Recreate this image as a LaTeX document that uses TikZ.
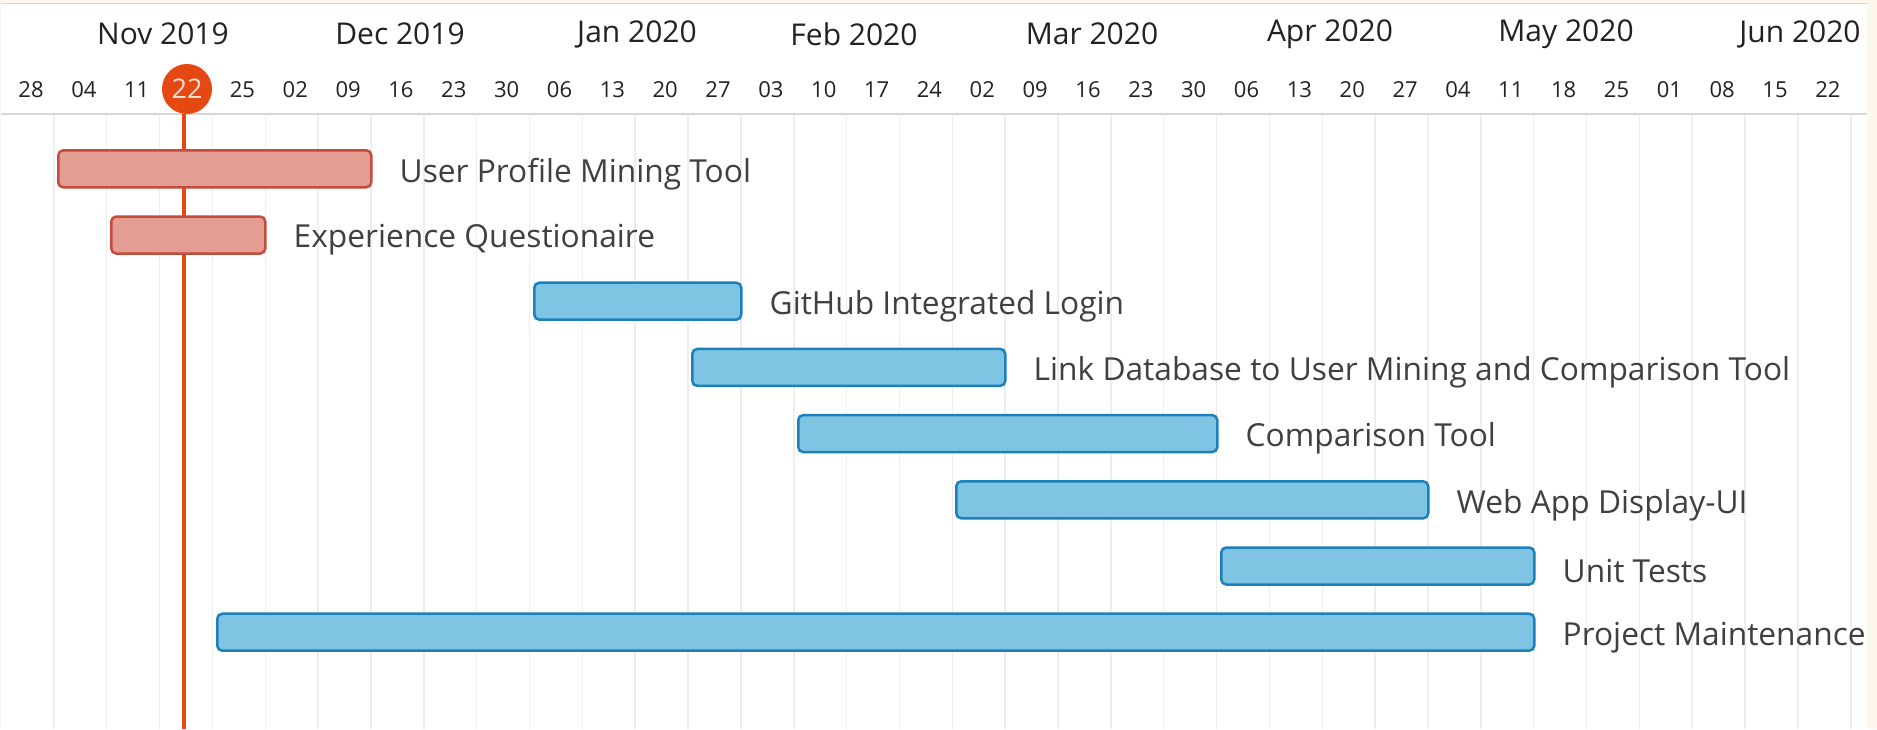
\documentclass[tikz,border=0pt]{standalone}
\usepackage{fontspec}
\setmainfont{Open Sans}
\usetikzlibrary{positioning}
\definecolor{pagebeige}{RGB}{252,246,236}
\definecolor{gridgray}{RGB}{238,238,238}
\definecolor{headgray}{RGB}{214,214,214}
\definecolor{todayred}{RGB}{230,72,20}
\definecolor{todaytext}{RGB}{252,222,210}
\definecolor{doneFill}{RGB}{227,157,146}
\definecolor{doneDraw}{RGB}{196,76,60}
\definecolor{taskFill}{RGB}{127,196,227}
\definecolor{taskDraw}{RGB}{28,128,186}
\definecolor{labelgray}{RGB}{64,64,64}
\definecolor{headtext}{RGB}{34,34,34}
\tikzset{
  donebar/.style={
    draw=doneDraw, fill=doneFill, line width=2.5pt,
    rounded corners=5pt, minimum height=37pt, inner sep=0pt, anchor=west
  },
  taskbar/.style={donebar, draw=taskDraw, fill=taskFill},
  tasklabel/.style={
    inner sep=0pt, anchor=west, text=labelgray, yshift=-5pt,
    font=\fontsize{31.7}{36}\selectfont
  },
  monthlabel/.style={inner sep=0pt, text=headtext, font=\fontsize{30}{34}\selectfont},
  weeklabel/.style={inner sep=0pt, text=headtext, font=\fontsize{22}{26}\selectfont},
  todaymark/.style={
    circle, fill=todayred, minimum size=50pt, inner sep=0pt,
    text=todaytext, font=\fontsize{27}{30}\selectfont
  },
  gridline/.style={gridgray, line width=1.5pt},
  todayline/.style={todayred, line width=4pt}
}

\begin{document}
\begin{tikzpicture}[x=1pt, y=-1pt]
        \useasboundingbox (0,0) rectangle (1877,729);
        \fill[pagebeige] (0,0) rectangle (1877,729);
        \fill[white] (1,3) rectangle (1867,729);
        \draw[headgray, line width=1pt] (1,3.5) -- (1867,3.5);
        % week columns
        \foreach \k in {1,...,35}
          \draw[gridline] (1+52.85*\k,114) -- (1+52.85*\k,729);
        \draw[headgray, line width=2.5pt] (1,114) -- (1867,114);
        % header
        \foreach \m/\x in {Nov 2019/163, Dec 2019/400, Jan 2020/637, Feb 2020/854,
                           Mar 2020/1092, Apr 2020/1330, May 2020/1566, Jun 2020/1800}
          \node[monthlabel] (m\x) at (\x,34) {\m};
        \foreach \d [count=\k from 0] in {28,04,11,{},25,02,09,16,23,30,06,13,20,27,03,10,17,24,
                                          02,09,16,23,30,06,13,20,27,04,11,18,25,01,08,15,22}
          \node[weeklabel] (w\k) at (31+52.85*\k,90) {\d};
        % today
        \node[todaymark] (today) at (187,89) {22};
        \coordinate (todayEnd) at (184,729);
        \draw[todayline] (today.south -| todayEnd) -- (todayEnd);
        % tasks
        \node[donebar, minimum width=313pt] (profile) at (57,168.8) {};
        \node[tasklabel, right=27pt of profile] (profileText) {User Profile Mining Tool};
        \node[donebar, minimum width=154pt] (questions) at (110,235) {};
        \node[tasklabel, right=27pt of questions] (questionsText) {Experience Questionaire};
        \node[taskbar, minimum width=207pt] (github) at (533,301.2) {};
        \node[tasklabel, right=27pt of github] (githubText) {GitHub Integrated Login};
        \node[taskbar, minimum width=313pt] (linkdb) at (691,367.4) {};
        \node[tasklabel, right=27pt of linkdb] (linkdbText) {Link Database to User Mining and Comparison Tool};
        \node[taskbar, minimum width=419pt] (compare) at (797,433.6) {};
        \node[tasklabel, right=27pt of compare] (compareText) {Comparison Tool};
        \node[taskbar, minimum width=472pt] (webapp) at (955,499.8) {};
        \node[tasklabel, right=27pt of webapp] (webappText) {Web App Display-UI};
        \node[taskbar, minimum width=313pt] (tests) at (1220,566) {};
        \node[tasklabel, right=27pt of tests] (testsText) {Unit Tests};
        \node[taskbar, minimum width=1317pt] (maint) at (216,632.2) {};
        \node[tasklabel, right=27pt of maint] (maintText) {Project Maintenance};
      \end{tikzpicture}
\end{document}
